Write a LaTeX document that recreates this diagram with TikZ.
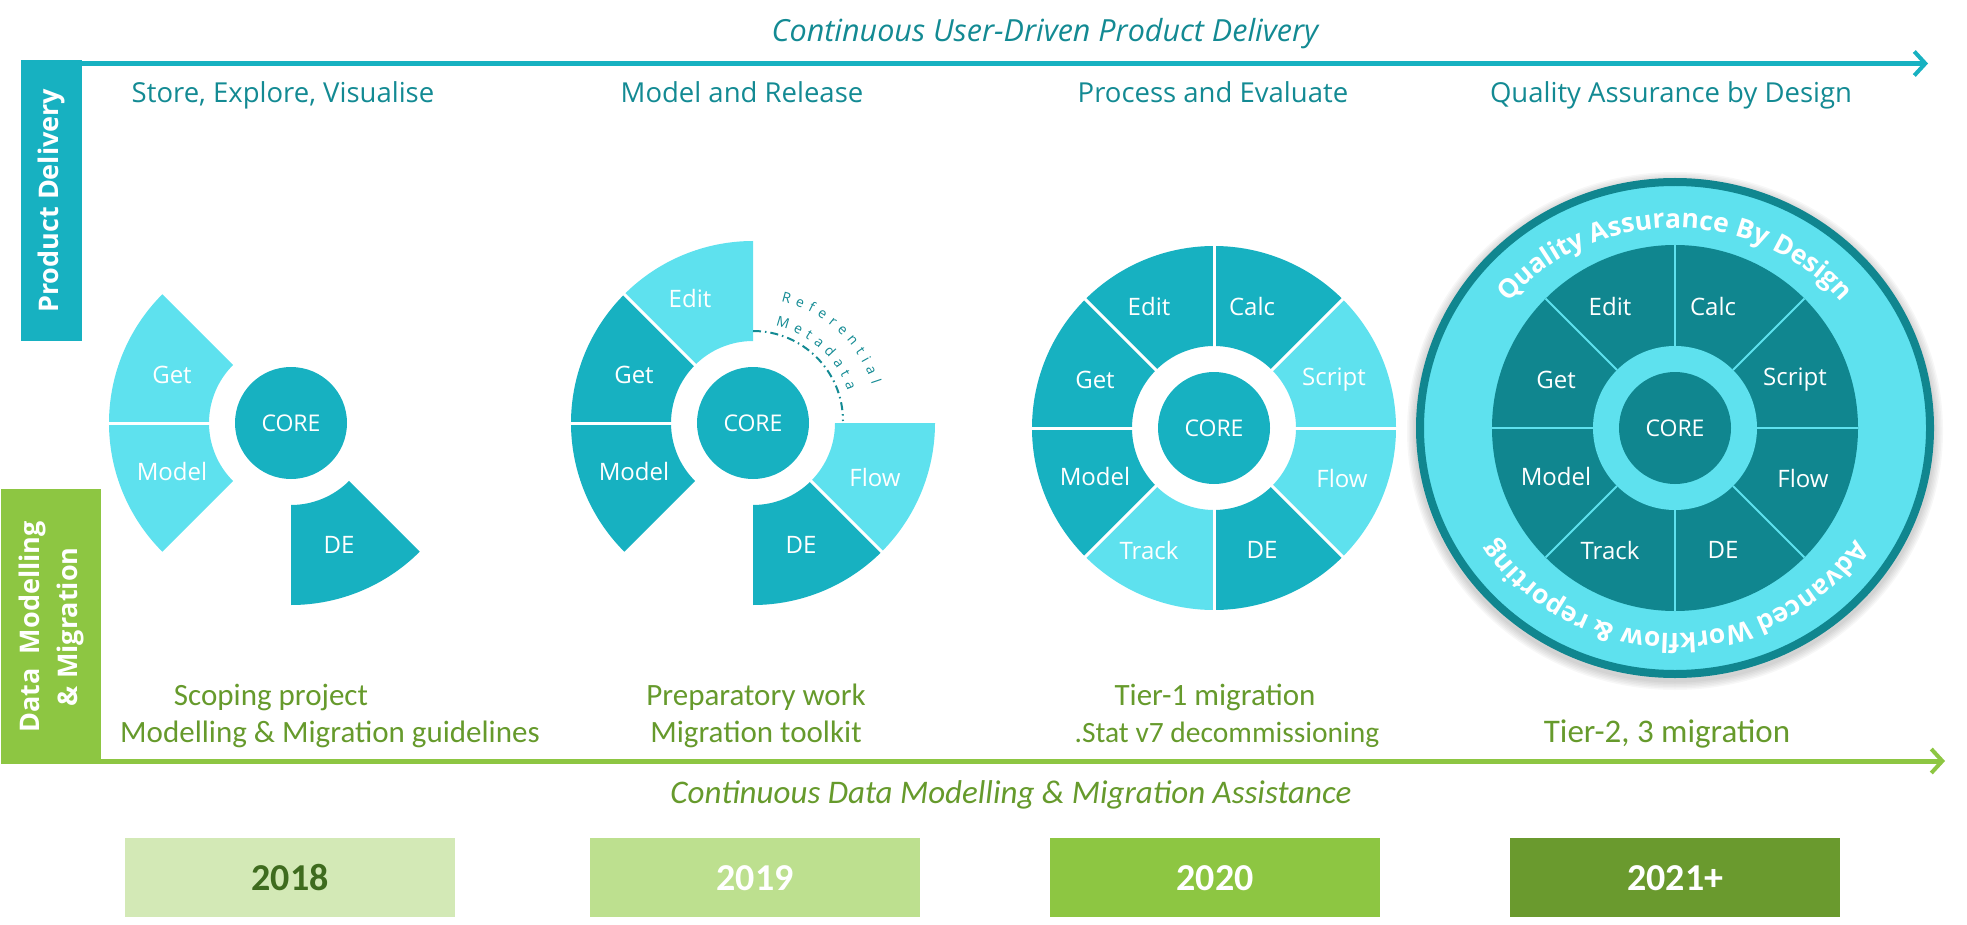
\documentclass[tikz,border=0pt]{standalone}
\usepackage{fontspec}
\setmainfont{Open Sans}
\newfontfamily\calfont{Carlito}
\usetikzlibrary{calc,arrows.meta,decorations.text}

\definecolor{pdteal}{HTML}{17B1C1}
\definecolor{pdlight}{HTML}{5EE1EE}
\definecolor{pddark}{HTML}{10868F}
\definecolor{pdtext}{HTML}{138A93}
\definecolor{dmgreen}{HTML}{8DC642}
\definecolor{dmtext}{HTML}{669A2C}
\definecolor{yrA}{HTML}{D3E9B6}
\definecolor{yrAtext}{HTML}{3E6B1E}
\definecolor{yrB}{HTML}{BDE08F}
\definecolor{yrD}{HTML}{6A9A2E}

\newcommand{\ringfont}{\bfseries\fontsize{26.5}{26.5}\selectfont}
\newcommand{\refont}{\fontsize{14}{14}\selectfont}

% ring sector of a wheel: centre, start angle, end angle (counter-clockwise), colour
\newcommand{\wsector}[4]{%
  \fill[#4] ($(#1)+(-#2:82)$) arc[start angle=-#2, end angle=-#3, radius=82]
    -- ($(#1)+(-#3:182)$) arc[start angle=-#3, end angle=-#2, radius=182] -- cycle;}
% white spoke between two sectors
\newcommand{\wspoke}[2]{%
  \draw[white, line width=3pt] ($(#1)+(-#2:80)$) -- ($(#1)+(-#2:185)$);}

\begin{document}
\begin{tikzpicture}[x=1pt, y=-1pt,
  band/.style={anchor=north west, inner sep=0pt},
  vlabel/.style={rotate=90, text=white, align=center,
    font=\bfseries\fontsize{27}{38}\selectfont},
  heading/.style={anchor=base, text=pdtext, font=\fontsize{27.5}{27.5}\selectfont},
  core/.style={circle, fill=pdteal, minimum size=112pt, inner sep=0pt,
    text=white, font=\fontsize{23}{23}\selectfont},
  lbl/.style={text=white, font=\fontsize{24}{24}\selectfont},
  milestone/.style={anchor=base, text=dmtext, font=\calfont\fontsize{31}{31}\selectfont},
  yearbox/.style={band, minimum width=330pt, minimum height=79pt,
    font=\calfont\bfseries\fontsize{38}{38}\selectfont},
  tealarrow/.style={pdteal, line width=5pt,
    -{Straight Barb[length=11pt, width=24pt, line width=4pt]}},
  greenarrow/.style={dmgreen, line width=5pt,
    -{Straight Barb[length=11pt, width=24pt, line width=4pt]}},
  refline/.style={pdtext, line width=2pt, dash pattern=on 8pt off 4pt on 1.5pt off 4pt}
]
\useasboundingbox (0,0) rectangle (1967,925);

% ---------- product delivery lane ----------
\node[band, fill=pdteal, minimum width=61pt, minimum height=281pt] (pdbox) at (21,60) {};
\node[vlabel] (pdlabel) at (pdbox.center) {Product Delivery};
\coordinate (pdstart) at (82,63.5);
\coordinate (pdend) at (1928,63.5);
\draw[tealarrow] (pdstart) -- (pdend);
\node[anchor=base, text=pdtext, font=\itshape\fontsize{30.5}{30.5}\selectfont]
  (pdtitle) at (1045,42) {Continuous User-Driven Product Delivery};

\node[heading] (h1) at (283,103) {Store, Explore, Visualise};
\node[heading] (h2) at (742,103) {Model and Release};
\node[heading] (h3) at (1213,103) {Process and Evaluate};
\node[heading] (h4) at (1671,103) {Quality Assurance by Design};

% ---------- 2018 wheel ----------
\coordinate (w1) at (291,423);
\wsector{w1}{135}{180}{pdlight}
\wsector{w1}{180}{225}{pdlight}
\wsector{w1}{270}{315}{pdteal}
\wspoke{w1}{180}
\node[core] (w1core) at (w1) {CORE};
\node[lbl] (w1get) at ($(w1)+(-119,-48)$) {Get};
\node[lbl] (w1model) at ($(w1)+(-119,48)$) {Model};
\node[lbl] (w1de) at ($(w1)+(48,122)$) {DE};

% ---------- 2019 wheel ----------
\coordinate (w2) at (753,423);
\wsector{w2}{90}{135}{pdlight}
\wsector{w2}{135}{180}{pdteal}
\wsector{w2}{180}{225}{pdteal}
\wsector{w2}{270}{315}{pdteal}
\wsector{w2}{315}{360}{pdlight}
\wspoke{w2}{135}
\wspoke{w2}{180}
\wspoke{w2}{315}
\node[core] (w2core) at (w2) {CORE};
\node[lbl] (w2edit) at ($(w2)+(-63,-124)$) {Edit};
\node[lbl] (w2get) at ($(w2)+(-119,-48)$) {Get};
\node[lbl] (w2model) at ($(w2)+(-119,48)$) {Model};
\node[lbl] (w2flow) at ($(w2)+(122,54)$) {Flow};
\node[lbl] (w2de) at ($(w2)+(48,122)$) {DE};
\draw[refline] ($(w2)+(-90:92)$) arc[start angle=-90, end angle=0, radius=90];
\path[decorate, decoration={text along path, text align={fit to path},
    text color=pdtext, text={|\refont|Referential}}]
  ($(w2)+(-77:125)$) arc[start angle=-77, end angle=-18, radius=125];
\path[decorate, decoration={text along path, text align={fit to path},
    text color=pdtext, text={|\refont|Metadata}}]
  ($(w2)+(-77:100)$) arc[start angle=-77, end angle=-19, radius=100];

% ---------- 2020 wheel ----------
\coordinate (w3) at (1214,428);
\wsector{w3}{0}{45}{pdlight}
\wsector{w3}{45}{90}{pdteal}
\wsector{w3}{90}{135}{pdteal}
\wsector{w3}{135}{180}{pdteal}
\wsector{w3}{180}{225}{pdteal}
\wsector{w3}{225}{270}{pdlight}
\wsector{w3}{270}{315}{pdteal}
\wsector{w3}{315}{360}{pdlight}
\foreach \a in {0,45,...,315} {\wspoke{w3}{\a}}
\node[core] (w3core) at (w3) {CORE};
\node[lbl] (w3edit) at ($(w3)+(-65,-122)$) {Edit};
\node[lbl] (w3calc) at ($(w3)+(38,-122)$) {Calc};
\node[lbl] (w3script) at ($(w3)+(120,-48)$) {Script};
\node[lbl] (w3flow) at ($(w3)+(128,50)$) {Flow};
\node[lbl] (w3de) at ($(w3)+(48,122)$) {DE};
\node[lbl] (w3track) at ($(w3)+(-65,122)$) {Track};
\node[lbl] (w3model) at ($(w3)+(-119,48)$) {Model};
\node[lbl] (w3get) at ($(w3)+(-119,-48)$) {Get};

% ---------- 2021+ wheel inside the quality ring ----------
\coordinate (w4) at (1675,428);
\foreach \i in {1,...,6}
  \fill[black, opacity=0.03] ($(w4)+(0,3)$) ellipse[x radius=259+\i*1.5, y radius=250+\i*1.5];
\draw[pddark, line width=8pt, fill=pdlight] (w4) ellipse[x radius=255, y radius=246];
\fill[pddark] (w4) circle[radius=183];
\foreach \a in {0,45,...,315}
  \draw[pdlight, line width=2pt] ($(w4)+(\a:82)$) -- ($(w4)+(\a:183)$);
\fill[pdlight] (w4) circle[radius=82];
\node[core, fill=pddark] (w4core) at (w4) {CORE};
\node[lbl] (w4edit) at ($(w4)+(-65,-122)$) {Edit};
\node[lbl] (w4calc) at ($(w4)+(38,-122)$) {Calc};
\node[lbl] (w4script) at ($(w4)+(120,-48)$) {Script};
\node[lbl] (w4flow) at ($(w4)+(128,50)$) {Flow};
\node[lbl] (w4de) at ($(w4)+(48,122)$) {DE};
\node[lbl] (w4track) at ($(w4)+(-65,122)$) {Track};
\node[lbl] (w4model) at ($(w4)+(-119,48)$) {Model};
\node[lbl] (w4get) at ($(w4)+(-119,-48)$) {Get};
\path[decorate, decoration={text along path, text align=center,
    text color=white, text={|\ringfont|Quality Assurance By Design}}]
  ($(w4)+(-154:214 and 200)$) arc[start angle=-154, end angle=-26, x radius=214, y radius=200];
\path[decorate, decoration={text along path, text align=center,
    text color=white, text={|\ringfont|Advanced Workflow {\&} reporting}}]
  ($(w4)+(26:214 and 205)$) arc[start angle=26, end angle=154, x radius=214, y radius=205];

% ---------- data modelling & migration lane ----------
\node[band, fill=dmgreen, minimum width=100pt, minimum height=275pt] (dmbox) at (1,489) {};
\node[vlabel] (dmlabel) at (dmbox.center) {Data\ \ Modelling\\\& Migration};
\coordinate (dmstart) at (101,761);
\coordinate (dmend) at (1945,761);
\draw[greenarrow] (dmstart) -- (dmend);
\node[anchor=base, text=dmtext, font=\calfont\itshape\fontsize{33}{33}\selectfont]
  (dmtitle) at (1011,803) {Continuous Data Modelling \& Migration Assistance};

\node[milestone] (m1a) at (271,705) {Scoping project};
\node[milestone] (m1b) at (330,742) {Modelling \& Migration guidelines};
\node[milestone] (m2a) at (756,705) {Preparatory work};
\node[milestone] (m2b) at (756,742) {Migration toolkit};
\node[milestone] (m3a) at (1215,705) {Tier-1 migration};
\node[milestone, font=\calfont\fontsize{29.5}{29.5}\selectfont] (m3b) at (1227,742) {.Stat v7 decommissioning};
\node[milestone, font=\calfont\fontsize{33}{33}\selectfont] (m4b) at (1667,742) {Tier-2, 3 migration};

% ---------- years ----------
\node[yearbox, fill=yrA, text=yrAtext] (y2018) at (125,838) {2018};
\node[yearbox, fill=yrB, text=white] (y2019) at (590,838) {2019};
\node[yearbox, fill=dmgreen, text=white] (y2020) at (1050,838) {2020};
\node[yearbox, fill=yrD, text=white] (y2021) at (1510,838) {2021+};
\end{tikzpicture}
\end{document}
